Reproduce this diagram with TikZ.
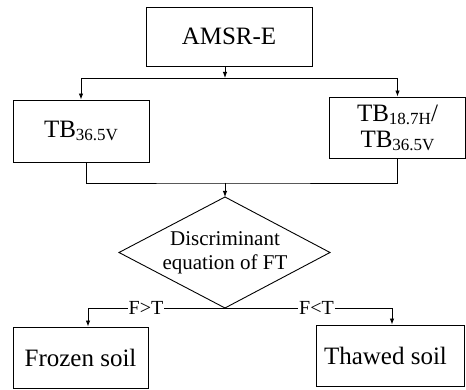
\documentclass[tikz,border=0pt]{standalone}
\usepackage{fontspec}
\setmainfont{Liberation Serif}
\usetikzlibrary{arrows.meta}
\newcommand\tbsub[1]{\raisebox{-3pt}{\fontsize{17}{17}\selectfont #1}}
\begin{document}
\begin{tikzpicture}[x=1pt,y=1pt,
  box/.style={draw, line width=0.9pt, inner sep=0pt, align=center, font=\fontsize{25}{26}\selectfont},
  conn/.style={line width=0.9pt},
  arr/.style={conn, -{Latex[length=6pt,width=4.5pt]}},
  lbl/.style={fill=white, inner sep=0.8pt, font=\fontsize{20}{22}\selectfont},
  dtext/.style={align=center, inner sep=0pt, font=\fontsize{21}{24}\selectfont}]
\useasboundingbox (0,0) rectangle (466,390);
% boxes
\node[box, minimum width=166pt, minimum height=59pt] (amsr) at (229,353.5) {AMSR-E};
\node[box, minimum width=136pt, minimum height=62pt] (tb1) at (81,259) {TB\tbsub{36.5V}};
\node[box, minimum width=136pt, minimum height=61pt] (tb2) at (397.5,262.5) {TB\tbsub{18.7H}/\\TB\tbsub{36.5V}};
\node[box, minimum width=135pt, minimum height=61pt] (frozen) at (80.5,32.5) {Frozen soil};
\node[box, minimum width=148pt, minimum height=61pt] (thawed) at (390,34.5) {\hspace*{-9pt}Thawed soil};
% diamond
\coordinate (dtop) at (225,193);
\coordinate (dbot) at (225,82);
\coordinate (dleft) at (119,137.5);
\coordinate (dright) at (330,137.5);
\draw[conn] (dtop) -- (dright) -- (dbot) -- (dleft) -- cycle;
\node[dtext] (disc) at (225,137.5) {Discriminant\\equation of FT};
% junctions
\coordinate (j1) at (225,312);
\coordinate (j2) at (225,207);
\draw[arr] (amsr.south -| j1) -- (j1);
\draw[arr] (j1) -| (tb1.north);
\draw[arr] (j1) -| (tb2.north);
\draw[conn] ([xshift=5pt]tb1.south) |- (j2) -| (tb2.south);
\draw[arr] (j2) -- (dtop);
% branches
\node[lbl] (gt) at (146,82) {F>T};
\node[lbl] (lt) at (316.5,82) {F<T};
\draw[conn] (dbot) -- (gt);
\draw[arr] (gt) -| ([xshift=7.5pt]frozen.north);
\draw[conn] (dbot) -- (lt);
\draw[arr] (lt) -| ([xshift=2pt]thawed.north);
\end{tikzpicture}
\end{document}
